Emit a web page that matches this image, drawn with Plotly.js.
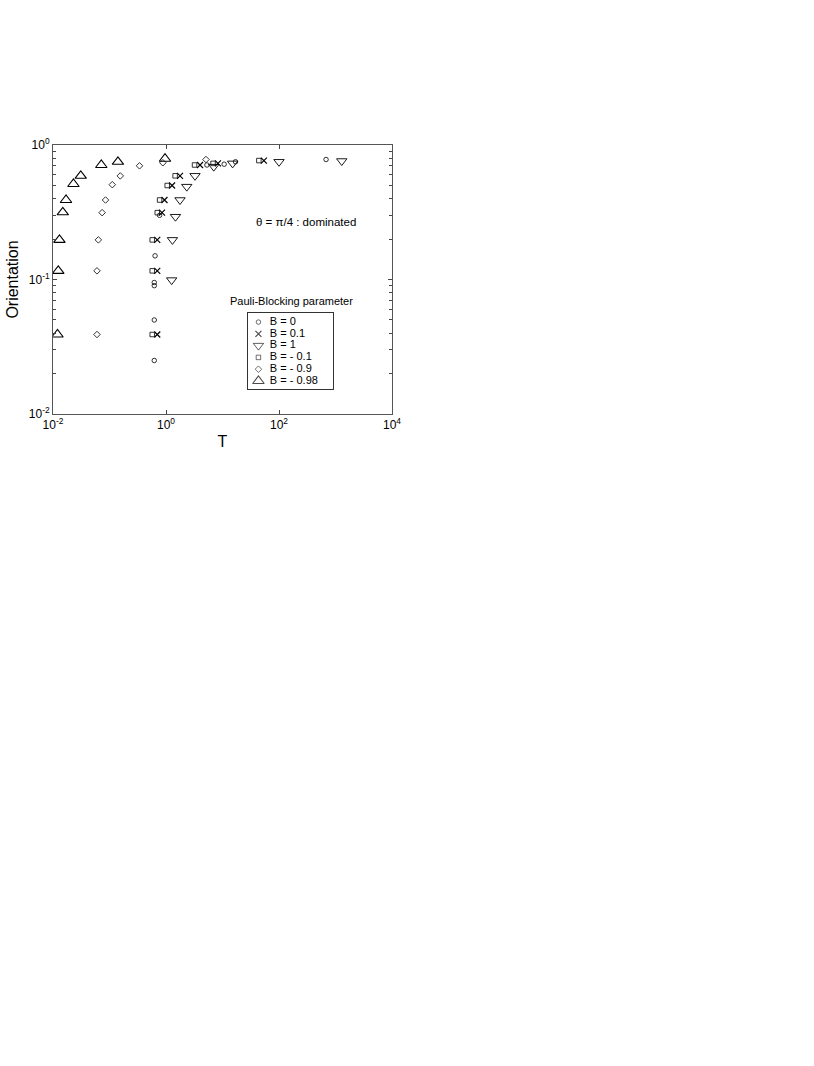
<!DOCTYPE html>
<html>
<head>
<meta charset="utf-8">
<script src="https://cdn.plot.ly/plotly-3.0.1.min.js"></script>
<style>
  body { margin: 0; background: #fff; }
  #chart { width: 814px; height: 1066px; }
</style>
</head>
<body>
<div id="chart"></div>
<script>
// Orientation vs T, one series per Pauli-Blocking parameter B

const seriesNames = ["B = 0", "B = 0.1", "B = 1", "B = - 0.1", "B = - 0.9", "B = - 0.98"];

const tB0 = [0.62, 0.62, 0.62, 0.62, 0.64, 0.77, 5.3, 10.7, 17, 680];
const oB0 = [0.025, 0.05, 0.09, 0.095, 0.15, 0.30, 0.71, 0.72, 0.75, 0.78];

const tB01 = [0.70, 0.70, 0.70, 0.85, 0.94, 1.28, 1.77, 4.0, 8.3, 54];
const oB01 = [0.039, 0.116, 0.197, 0.314, 0.39, 0.50, 0.59, 0.71, 0.73, 0.766];

const tB1 = [1.26, 1.30, 1.47, 1.77, 2.33, 3.26, 7.0, 15.1, 100, 1290];
const oB1 = [0.099, 0.197, 0.293, 0.39, 0.49, 0.59, 0.69, 0.73, 0.75, 0.76];

const tBm01 = [0.57, 0.57, 0.57, 0.70, 0.77, 1.05, 1.45, 3.2, 6.8, 44];
const oBm01 = [0.039, 0.116, 0.197, 0.314, 0.39, 0.50, 0.59, 0.71, 0.73, 0.766];

const tBm09 = [0.060, 0.060, 0.0635, 0.074, 0.085, 0.112, 0.155, 0.34, 0.88, 5.1];
const oBm09 = [0.039, 0.116, 0.197, 0.314, 0.39, 0.507, 0.589, 0.70, 0.738, 0.78];

const tBm098 = [0.012, 0.0124, 0.013, 0.0149, 0.017, 0.023, 0.031, 0.0716, 0.141, 0.96];
const oBm098 = [0.039, 0.116, 0.197, 0.316, 0.39, 0.513, 0.59, 0.71, 0.75, 0.79];

// tick labels
const xTickVals = [0.01, 1, 100, 10000];
const xTickText = ["10<sup>-2</sup>", "10<sup>0</sup>", "10<sup>2</sup>", "10<sup>4</sup>"];
const yTickVals = [0.01, 0.1, 1];
const yTickText = ["10<sup>-2</sup>", "10<sup>-1</sup>", "10<sup>0</sup>"];
const yMinorVals = [0.02, 0.03, 0.04, 0.05, 0.06, 0.07, 0.08, 0.09,
                    0.2, 0.3, 0.4, 0.5, 0.6, 0.7, 0.8, 0.9];

const FONT = "Liberation Sans, Arial, sans-serif";

// marker look for each series (same order as seriesNames)
const symbols = ["circle-open", "x-thin-open", "triangle-down-open", "square-open", "diamond-open", "triangle-up-open"];
const sizes = [4.5, 6, 9, 4.5, 5, 10];
const widths = [0.8, 1.2, 0.9, 0.8, 0.8, 1.1];

const xs = [tB0, tB01, tB1, tBm01, tBm09, tBm098];
const ys = [oB0, oB01, oB1, oBm01, oBm09, oBm098];

const traces = xs.map((x, i) => ({
  x: x,
  y: ys[i],
  type: "scatter",
  mode: "markers",
  name: seriesNames[i],
  marker: {
    symbol: symbols[i],
    size: sizes[i],
    color: "#000",
    line: { color: "#000", width: widths[i] },
  },
  xaxis: "x",
  yaxis: "y",
}));

// hand-made legend box drawn on its own small axes
const legendPos = seriesNames.map((_, i) => seriesNames.length - 1 - i);

traces.push({
  x: seriesNames.map(() => 0.12),
  y: legendPos,
  type: "scatter",
  mode: "markers",
  marker: {
    symbol: symbols,
    size: sizes,
    color: "#000",
    line: { color: "#000", width: widths },
  },
  xaxis: "x2",
  yaxis: "y2",
  hoverinfo: "skip",
});
traces.push({
  x: seriesNames.map(() => 0.255),
  y: legendPos,
  type: "scatter",
  mode: "text",
  text: seriesNames,
  textposition: "middle right",
  textfont: { family: FONT, size: 11, color: "#000" },
  xaxis: "x2",
  yaxis: "y2",
  hoverinfo: "skip",
});

const layout = {
  width: 814,
  height: 1066,
  margin: { l: 52.5, r: 422, t: 145, b: 652 },
  paper_bgcolor: "#fff",
  plot_bgcolor: "#fff",
  showlegend: false,
  font: { family: FONT, color: "#000", size: 12 },
  xaxis: {
    type: "log",
    range: [-2, 4],
    tickmode: "array",
    tickvals: xTickVals,
    ticktext: xTickText,
    ticks: "inside",
    ticklen: 4,
    tickcolor: "#444",
    showline: true,
    linecolor: "#555",
    linewidth: 1,
    mirror: "ticks",
    showgrid: false,
    zeroline: false,
    tickfont: { size: 12 },
    title: { text: "T", font: { size: 16 }, standoff: 4 },
  },
  yaxis: {
    type: "log",
    range: [-2, 0],
    tickmode: "array",
    tickvals: yTickVals,
    ticktext: yTickText,
    ticks: "inside",
    ticklen: 4,
    tickcolor: "#444",
    minor: { tickmode: "array", tickvals: yMinorVals, ticks: "inside", ticklen: 3, tickcolor: "#444", showgrid: false },
    showline: true,
    linecolor: "#555",
    linewidth: 1,
    mirror: "ticks",
    showgrid: false,
    zeroline: false,
    tickfont: { size: 12 },
    title: { text: "Orientation", font: { size: 16 }, standoff: 6 },
  },
  xaxis2: {
    domain: [0.576, 0.826],
    anchor: "y2",
    range: [0, 1],
    showline: true,
    mirror: true,
    linecolor: "#333",
    linewidth: 1,
    showticklabels: false,
    ticks: "",
    showgrid: false,
    zeroline: false,
    fixedrange: true,
  },
  yaxis2: {
    domain: [0.093, 0.375],
    anchor: "x2",
    range: [-0.68, 5.76],
    showline: true,
    mirror: true,
    linecolor: "#333",
    linewidth: 1,
    showticklabels: false,
    ticks: "",
    showgrid: false,
    zeroline: false,
    fixedrange: true,
  },
  annotations: [
    {
      xref: "paper", yref: "paper",
      x: 0.747, y: 0.714,
      xanchor: "center", yanchor: "middle",
      text: "θ = π/4 : dominated",
      showarrow: false,
      font: { size: 11.5 },
    },
    {
      xref: "paper", yref: "paper",
      x: 0.705, y: 0.42,
      xanchor: "center", yanchor: "middle",
      text: "Pauli-Blocking parameter",
      showarrow: false,
      font: { size: 11 },
    },
  ],
};

Plotly.newPlot("chart", traces, layout, { displayModeBar: false, staticPlot: true });
</script>
</body>
</html>
